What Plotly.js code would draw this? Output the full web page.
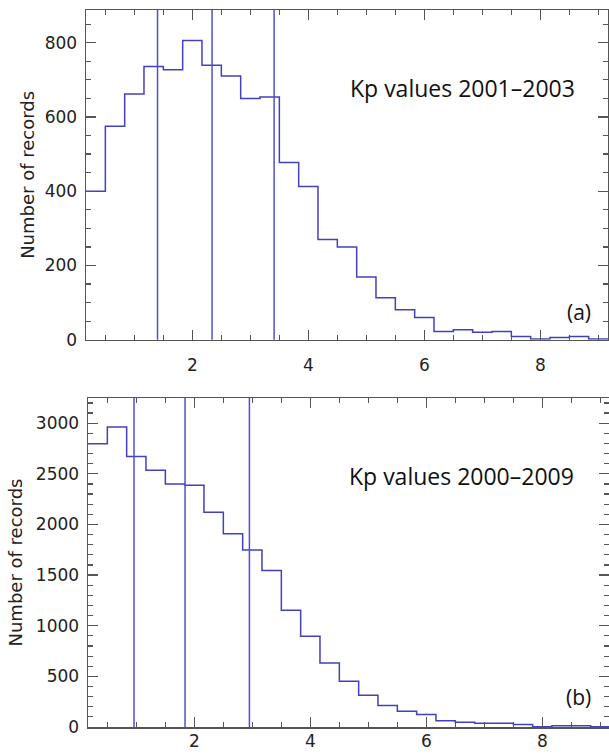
<!DOCTYPE html>
<html><head><meta charset="utf-8">
<script src="https://cdn.plot.ly/plotly-3.0.1.min.js"></script>
<style>html,body{margin:0;padding:0;background:#fff;} #chart{width:609px;height:755px;}</style>
</head><body><div id="chart"></div>
<script>
// Kp bin centres (Kp in thirds: 0+, 1-, 1o, ... 9o)
const kpBins = [0.333,0.667,1.0,1.333,1.667,2.0,2.333,2.667,3.0,3.333,3.667,4.0,4.333,4.667,5.0,5.333,5.667,6.0,6.333,6.667,7.0,7.333,7.667,8.0,8.333,8.667,9.0];
// Panel (a): Kp values 2001-2003
const counts2001_2003 = [400,575,662,736,727,806,739,710,650,654,477,413,270,250,169,113,81,60,22,27,20,22,9,2,6,9,2];
// Panel (b): Kp values 2000-2009
const counts2000_2009 = [2797,2961,2672,2534,2399,2386,2120,1909,1748,1544,1153,896,633,452,314,212,156,123,61,47,37,37,25,2,12,12,2];
// Vertical marker lines (quartiles)
const quart2001_2003 = [1.40, 2.34, 3.41];
const quart2000_2009 = [0.96, 1.84, 2.95];
const labelA = 'Kp values 2001\u20132003';
const labelB = 'Kp values 2000\u20132009';
const yTitle = 'Number of records';

const binWidth = 1/3;
function stepXY(centers, counts){
  const xs = [], ys = [];
  centers.forEach((c,i)=>{ xs.push(c - binWidth/2); ys.push(counts[i]); });
  xs.push(centers[centers.length-1] + binWidth/2); ys.push(counts[counts.length-1]);
  return {xs, ys};
}
const lineColor = '#4040c0';
const sA = stepXY(kpBins, counts2001_2003);
const sB = stepXY(kpBins, counts2000_2009);

const traces = [
  {type:'scatter', mode:'lines', x:sA.xs, y:sA.ys, line:{shape:'hv', color:lineColor, width:1.5}, xaxis:'x', yaxis:'y', hoverinfo:'skip'},
  {type:'scatter', mode:'lines', x:sB.xs, y:sB.ys, line:{shape:'hv', color:lineColor, width:1.5}, xaxis:'x2', yaxis:'y2', hoverinfo:'skip'}
];

const shapes = [];
quart2001_2003.forEach(q=>shapes.push({type:'line', xref:'x', yref:'y domain', x0:q, x1:q, y0:0, y1:1, line:{color:'#5050cc', width:1.5}}));
quart2000_2009.forEach(q=>shapes.push({type:'line', xref:'x2', yref:'y2 domain', x0:q, x1:q, y0:0, y1:1, line:{color:'#5050cc', width:1.5}}));

const tickFont = {family:'DejaVu Sans', size:17, color:'#222'};
const titleFont = {family:'DejaVu Sans', size:18, color:'#222'};
function axisBase(extra){
  return Object.assign({
    showline:true, linecolor:'#555', linewidth:1.5, mirror:'ticks',
    ticks:'inside', ticklen:10, tickwidth:1.3, tickcolor:'#555',
    showgrid:false, zeroline:false, tickfont:tickFont, automargin:false
  }, extra);
}
const minorStyle = {ticks:'inside', ticklen:5, tickwidth:1.2, tickcolor:'#555', showgrid:false};

const layout = {
  width:609, height:755,
  margin:{l:86, r:0, t:10, b:27.5},
  paper_bgcolor:'#fff', plot_bgcolor:'#fff',
  showlegend:false,
  xaxis: axisBase({domain:[0, 522/523], range:[1/6, 9+1/6], dtick:2, tick0:0, anchor:'y',
    minor:Object.assign({dtick:0.5, tick0:0}, minorStyle), ticklabelstandoff:9}),
  yaxis: axisBase({domain:[0.5401, 1], range:[0, 888], dtick:200, tick0:0, anchor:'x',
    minor:Object.assign({dtick:50, tick0:0}, minorStyle), ticklabelstandoff:4,
    title:{text:yTitle, font:titleFont, standoff:5}}),
  xaxis2: axisBase({domain:[2/523, 1], range:[1/6, 9.15], dtick:2, tick0:0, anchor:'y2',
    minor:Object.assign({dtick:0.5, tick0:0}, minorStyle), ticklabelstandoff:-2}),
  yaxis2: axisBase({domain:[0, 0.4588], range:[0, 3248], dtick:500, tick0:0, anchor:'x2',
    minor:Object.assign({dtick:100, tick0:0}, minorStyle), ticklabelstandoff:4,
    title:{text:yTitle, font:titleFont, standoff:8}}),
  shapes: shapes,
  annotations:[
    {text:labelA, xref:'x domain', yref:'y domain', x:0.722, y:0.762, xanchor:'center', yanchor:'middle', showarrow:false, font:{family:'Open Sans', size:23, color:'#111'}},
    {text:'(a)', xref:'x domain', yref:'y domain', x:0.944, y:0.085, xanchor:'center', yanchor:'middle', showarrow:false, font:{family:'Open Sans', size:21, color:'#111'}},
    {text:labelB, xref:'x2 domain', yref:'y2 domain', x:0.717, y:0.762, xanchor:'center', yanchor:'middle', showarrow:false, font:{family:'Open Sans', size:23, color:'#111'}},
    {text:'(b)', xref:'x2 domain', yref:'y2 domain', x:0.942, y:0.092, xanchor:'center', yanchor:'middle', showarrow:false, font:{family:'Open Sans', size:21, color:'#111'}}
  ]
};
Plotly.newPlot('chart', traces, layout, {staticPlot:true, displayModeBar:false});
</script>
</body></html>
